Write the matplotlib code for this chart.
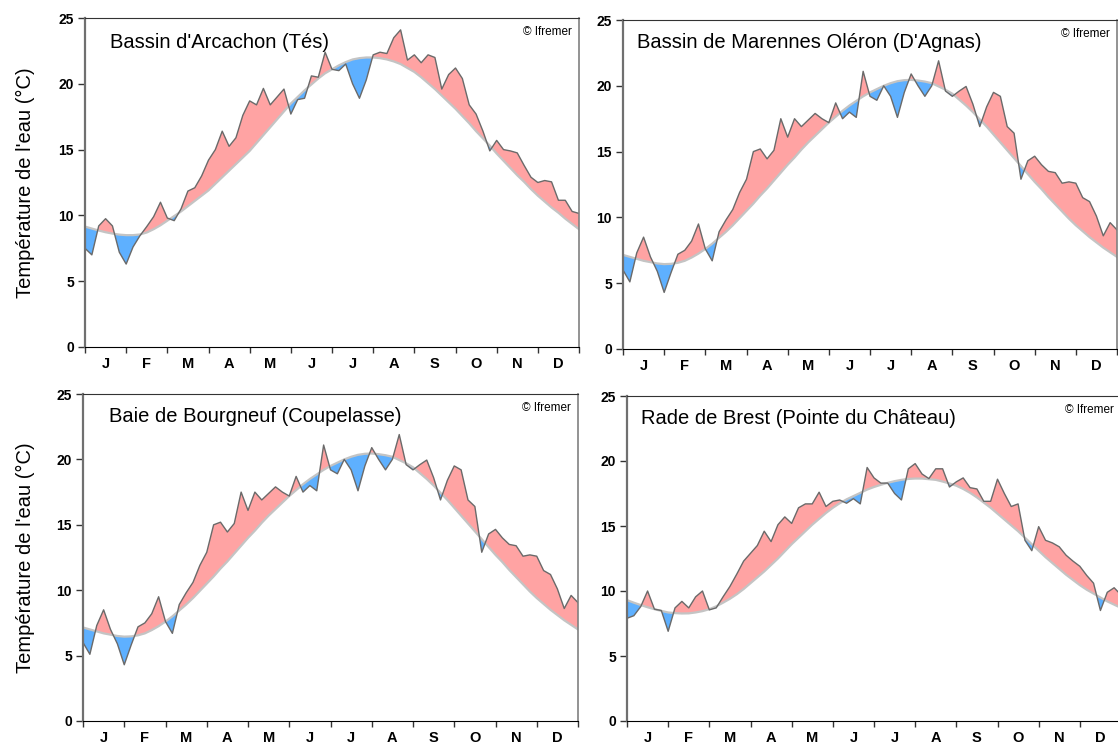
import numpy as np
import matplotlib.pyplot as plt

plt.rcParams['font.family'] = ['Liberation Sans', 'DejaVu Sans']

# one point every 1/6 month (~5 days), from 1 Jan to 31 Dec
t = np.arange(73) / 6.0
months = ['J', 'F', 'M', 'A', 'M', 'J', 'J', 'A', 'S', 'O', 'N', 'D']

arcachon_clim = [9.15, 9.0, 8.85, 8.72, 8.62, 8.54, 8.5,
                 8.5, 8.55, 8.7, 8.95, 9.25, 9.6,
                 9.95, 10.3, 10.7, 11.1, 11.5, 11.9,
                 12.4, 12.9, 13.4, 13.9, 14.4, 14.9,
                 15.5, 16.1, 16.7, 17.3, 17.9, 18.5,
                 19.0, 19.5, 19.95, 20.4, 20.8, 21.1,
                 21.4, 21.65, 21.85, 21.95, 22.0, 22.0,
                 21.95, 21.85, 21.7, 21.5, 21.2, 20.9,
                 20.5, 20.05, 19.6, 19.1, 18.6, 18.1,
                 17.55, 17.0, 16.4, 15.85, 15.3, 14.7,
                 14.15, 13.6, 13.05, 12.55, 12.0, 11.5,
                 11.05, 10.6, 10.2, 9.75, 9.35, 8.95]
arcachon_obs = [7.5, 7.0, 9.2, 9.75, 9.2, 7.2, 6.3,
                7.6, 8.45, 9.15, 9.9, 11.0, 9.8,
                9.6, 10.5, 11.85, 12.1, 13.0, 14.2,
                15.0, 16.4, 15.25, 15.9, 17.6, 18.7,
                18.4, 19.65, 18.4, 19.0, 19.6, 17.7,
                18.8, 18.9, 20.6, 20.5, 22.4, 21.1,
                21.0, 21.5, 20.0, 18.9, 20.3, 22.2,
                22.4, 22.3, 23.5, 24.1, 21.8, 22.2,
                21.6, 22.2, 22.0, 19.6, 20.7, 21.2,
                20.4, 18.4, 17.7, 16.4, 14.9, 15.7,
                15.0, 14.9, 14.75, 13.8, 12.9, 12.5,
                12.65, 12.55, 11.15, 11.15, 10.3, 10.15]

marennes_clim = [7.15, 7.0, 6.85, 6.7, 6.6, 6.5, 6.45,
                 6.47, 6.55, 6.7, 6.95, 7.25, 7.6,
                 8.0, 8.45, 8.9, 9.4, 9.95, 10.5,
                 11.05, 11.65, 12.2, 12.8, 13.4, 14.0,
                 14.55, 15.15, 15.7, 16.2, 16.7, 17.2,
                 17.65, 18.1, 18.5, 18.85, 19.2, 19.5,
                 19.75, 20.0, 20.2, 20.35, 20.43, 20.45,
                 20.4, 20.32, 20.2, 19.95, 19.7, 19.4,
                 18.95, 18.5, 18.0, 17.45, 16.9, 16.3,
                 15.7, 15.1, 14.5, 13.9, 13.3, 12.7,
                 12.15, 11.55, 11.0, 10.45, 9.9, 9.4,
                 8.95, 8.5, 8.1, 7.7, 7.35, 7.0]
marennes_obs = [6.0, 5.1, 7.3, 8.5, 7.0, 5.9, 4.3,
                5.8, 7.2, 7.5, 8.2, 9.5, 7.6,
                6.7, 8.9, 9.8, 10.6, 11.9, 12.9,
                15.0, 15.2, 14.45, 15.1, 17.5, 16.1,
                17.5, 16.9, 17.4, 17.9, 17.5, 17.2,
                18.7, 17.5, 18.0, 17.6, 21.1, 19.2,
                18.9, 20.0, 19.2, 17.6, 19.5, 20.9,
                20.0, 19.2, 20.0, 21.9, 19.6, 19.2,
                19.6, 19.95, 18.6, 16.9, 18.4, 19.5,
                19.2, 16.9, 16.4, 12.9, 14.3, 14.65,
                14.0, 13.5, 13.4, 12.6, 12.7, 12.6,
                11.5, 11.2, 10.1, 8.6, 9.6, 9.05]

# the Bourgneuf curves are the same as Marennes on the original figure
bourgneuf_clim = list(marennes_clim)
bourgneuf_obs = list(marennes_obs)

brest_clim = [9.3, 9.1, 8.92, 8.75, 8.6, 8.47, 8.35,
              8.3, 8.27, 8.28, 8.35, 8.45, 8.6,
              8.82, 9.1, 9.4, 9.75, 10.15, 10.6,
              11.05, 11.5, 12.0, 12.5, 13.05, 13.6,
              14.1, 14.6, 15.1, 15.55, 16.0, 16.4,
              16.75, 17.05, 17.3, 17.55, 17.8, 18.0,
              18.17, 18.32, 18.45, 18.55, 18.62, 18.65,
              18.65, 18.6, 18.55, 18.42, 18.27, 18.1,
              17.85, 17.55, 17.2, 16.8, 16.4, 15.95,
              15.5, 15.05, 14.6, 14.1, 13.6, 13.1,
              12.6, 12.15, 11.7, 11.25, 10.85, 10.45,
              10.1, 9.8, 9.5, 9.2, 8.95, 8.7]
brest_obs = [7.9, 8.1, 8.8, 10.0, 8.6, 8.5, 6.9,
             8.7, 9.2, 8.7, 9.55, 10.0, 8.55,
             8.7, 9.55, 10.35, 11.3, 12.3, 12.9,
             13.5, 14.6, 13.8, 15.1, 15.7, 15.2,
             16.4, 16.7, 16.7, 17.6, 16.5, 16.9,
             17.0, 16.75, 17.1, 16.7, 19.5, 18.7,
             18.3, 18.3, 17.5, 17.0, 19.4, 19.8,
             19.0, 18.65, 19.4, 19.4, 18.0, 18.4,
             18.7, 17.95, 17.85, 16.9, 16.9, 18.6,
             17.5, 16.5, 16.7, 13.9, 13.1, 14.95,
             13.9, 13.7, 13.4, 12.75, 12.3, 11.9,
             11.2, 10.6, 8.5, 9.9, 10.25, 9.7]

RED = '#ffa3a3'
BLUE = '#5eb0ff'
W, H = 1118.0, 753.0


def draw(rect, title, obs, clim, title_dx, title_dy, ylabel):
    ax = fig.add_axes([rect[0] / W, 1 - rect[3] / H, (rect[2] - rect[0]) / W, (rect[3] - rect[1]) / H])
    obs = np.array(obs)
    clim = np.array(clim)
    ax.fill_between(t, obs, clim, where=obs >= clim, interpolate=True, color=RED, lw=0)
    ax.fill_between(t, obs, clim, where=obs <= clim, interpolate=True, color=BLUE, lw=0)
    ax.plot(t, clim, color='#c4c4c4', lw=1.6)
    ax.plot(t, obs, color='#6a6a6a', lw=1.0)
    ax.set_xlim(0, 12)
    ax.set_ylim(0, 25)

    ax.set_xticks(range(13))
    ax.set_xticklabels([])
    ax.set_xticks(np.arange(12) + 0.5, minor=True)
    ax.set_xticklabels(months, minor=True, fontsize=10.5, fontweight='bold')
    ax.tick_params(axis='x', which='major', direction='out', length=4, width=1, color='#333333')
    ax.tick_params(axis='x', which='minor', length=0, pad=7)
    ax.set_yticks(range(0, 26, 5))
    ax.set_yticklabels([str(v) for v in range(0, 26, 5)], fontsize=10, fontweight='bold')
    ax.tick_params(axis='y', direction='out', length=5, width=1, pad=3, color='#333333')

    ax.spines['left'].set_color('#707070')
    ax.spines['left'].set_linewidth(1.6)
    ax.spines['bottom'].set_color('black')
    ax.spines['top'].set_color('#333333')
    ax.spines['right'].set_color('#808080')
    ax.spines['right'].set_linewidth(1.2)

    w = rect[2] - rect[0]
    h = rect[3] - rect[1]
    ax.text(title_dx / w, 1 - title_dy / h, title, transform=ax.transAxes,
            fontsize=14.5, ha='left', va='center')
    ax.text(1 - 7 / w, 1 - 14 / h, '\u00a9 Ifremer', transform=ax.transAxes,
            fontsize=8.5, ha='right', va='center')
    if ylabel:
        fig.text(25 / W, 1 - (rect[1] + rect[3]) / 2 / H, "Température de l'eau (°C)",
                 rotation=90, fontsize=14.5, ha='center', va='center')
    return ax


fig = plt.figure(figsize=(11.18, 7.53), dpi=100)

# rects in pixels: left, top, right, bottom
draw((85, 18, 579, 347), "Bassin d'Arcachon (Tés)", arcachon_obs, arcachon_clim, 25, 25, True)
draw((623, 20, 1117, 349), "Bassin de Marennes Oléron (D'Agnas)", marennes_obs, marennes_clim, 14, 22, False)
draw((83, 394, 578, 721), "Baie de Bourgneuf (Coupelasse)", bourgneuf_obs, bourgneuf_clim, 26, 23, True)
draw((627, 396, 1121, 721), "Rade de Brest (Pointe du Château)", brest_obs, brest_clim, 14, 22, False)

fig.savefig('out.png', dpi=100)
